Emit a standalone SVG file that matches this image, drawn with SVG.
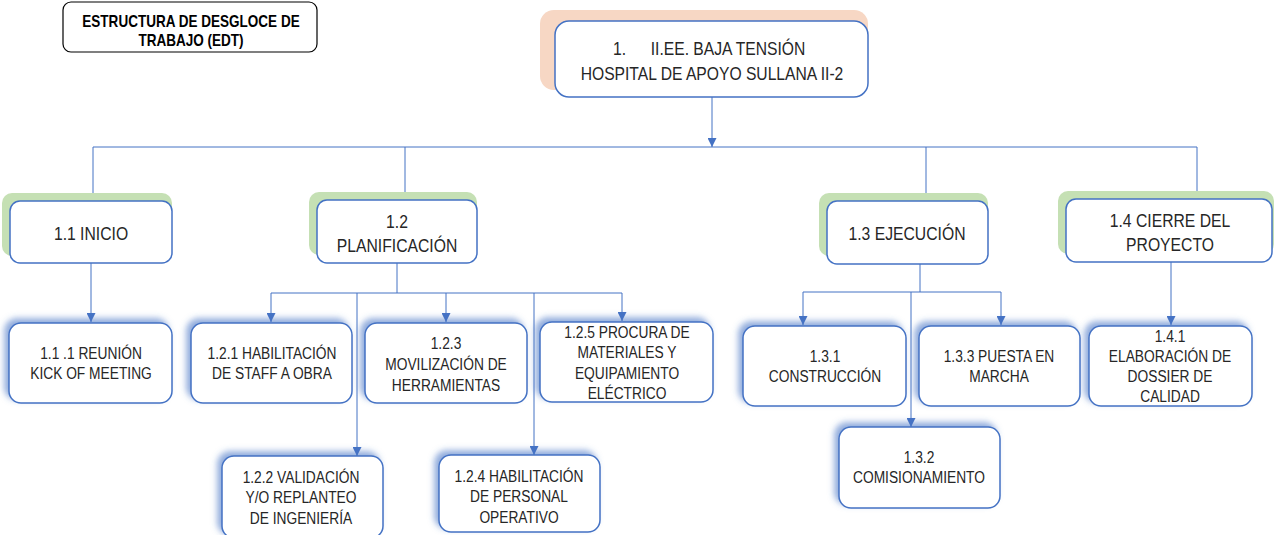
<svg xmlns="http://www.w3.org/2000/svg" width="1274" height="535" viewBox="0 0 1274 535">
<style>
text{font-family:"Liberation Sans",Arial,sans-serif;fill:#262626;text-anchor:middle}
.t0{font-size:16.5px;font-weight:bold;fill:#000}
.t1{font-size:18px}
.t2{font-size:18.5px}
.t3{font-size:17px}
.box{fill:#fff;stroke:#4472C4;stroke-width:1.5}
.green{fill:#C5E0B4}
.peach{fill:#F7D7C4}
.con{fill:none;stroke:#4472C4;stroke-width:1}
.arr{marker-end:url(#ah)}
</style>
<defs>
<marker id="ah" markerUnits="userSpaceOnUse" markerWidth="9" markerHeight="9" refX="9" refY="4.5" orient="auto" viewBox="0 0 9 9">
<path d="M0,0 L9,4.5 L0,9 z" fill="#4472C4"/>
</marker>
<filter id="glow" x="-15%" y="-20%" width="130%" height="140%">
<feOffset in="SourceAlpha" dx="-4" dy="-4" result="o"/>
<feGaussianBlur in="o" stdDeviation="3" result="b"/>
<feFlood flood-color="#4472C4" flood-opacity="0.6"/>
<feComposite in2="b" operator="in" result="s"/>
<feMerge><feMergeNode in="s"/><feMergeNode in="SourceGraphic"/></feMerge>
</filter>
</defs>

<g id="title">
<rect x="63" y="2" width="254" height="50" rx="8" fill="#fff" stroke="#000" stroke-width="1.2"/>
<g transform="translate(191 0) scale(0.82 1)">
<text class="t0" x="0" y="27">ESTRUCTURA DE DESGLOCE DE</text>
<text class="t0" x="0" y="46">TRABAJO (EDT)</text>
</g>
</g>

<g id="connectors">
<path class="con arr" d="M712,97 V147"/>
<path class="con" d="M93,147 H1197 M93,147 V193 M405,147 V192 M926,147 V193 M1197,147 V191"/>
<path class="con arr" d="M91,263 V322"/>
<path class="con" d="M397,263 V293 M271,293 H622"/>
<path class="con arr" d="M271,293 V322"/>
<path class="con arr" d="M446,293 V322"/>
<path class="con arr" d="M622,293 V321"/>
<path class="con arr" d="M357,293 V456"/>
<path class="con arr" d="M534,293 V455"/>
<path class="con" d="M920,264 V292 M803,292 H1001"/>
<path class="con arr" d="M803,292 V325"/>
<path class="con arr" d="M1001,292 V325"/>
<path class="con arr" d="M911,292 V427"/>
<path class="con arr" d="M1171,262 V325"/>
</g>

<g id="n1">
<rect class="peach" x="540" y="10" width="328" height="80" rx="14"/>
<rect class="box" x="555" y="21" width="313" height="76" rx="14"/>
<g transform="translate(712 0) scale(0.87 1)">
<text class="t1" x="-113.8" y="55" style="text-anchor:start">1.</text>
<text class="t1" x="18.4" y="55">II.EE. BAJA TENSIÓN</text>
<text class="t1" x="0" y="80">HOSPITAL DE APOYO SULLANA II-2</text>
</g>
</g>

<g id="n1_1">
<rect class="green" x="2" y="193" width="170" height="63" rx="10"/>
<rect class="box" x="10" y="201" width="162" height="62" rx="10"/>
<g transform="translate(91 0) scale(0.85 1)"><text class="t2" x="0" y="240">1.1 INICIO</text></g>
</g>

<g id="n1_2">
<rect class="green" x="309" y="192" width="168" height="63" rx="10"/>
<rect class="box" x="317" y="200" width="160" height="63" rx="10"/>
<g transform="translate(397 0) scale(0.85 1)">
<text class="t2" x="0" y="228">1.2</text>
<text class="t2" x="0" y="252">PLANIFICACIÓN</text>
</g>
</g>

<g id="n1_3">
<rect class="green" x="819" y="193" width="169" height="63" rx="10"/>
<rect class="box" x="827" y="201" width="161" height="63" rx="10"/>
<g transform="translate(907 0) scale(0.85 1)"><text class="t2" x="0" y="240">1.3 EJECUCIÓN</text></g>
</g>

<g id="n1_4">
<rect class="green" x="1058" y="191" width="216" height="63" rx="10"/>
<rect class="box" x="1066" y="199" width="206" height="63" rx="10"/>
<g transform="translate(1170 0) scale(0.85 1)">
<text class="t2" x="0" y="227">1.4 CIERRE DEL</text>
<text class="t2" x="0" y="251">PROYECTO</text>
</g>
</g>

<g id="n1_1_1">
<rect class="box" filter="url(#glow)" x="9" y="323" width="163" height="80" rx="12"/>
<g transform="translate(91 0) scale(0.81 1)">
<text class="t3" x="0" y="359">1.1 .1 REUNIÓN</text>
<text class="t3" x="0" y="379">KICK OF MEETING</text>
</g>
</g>

<g id="n1_2_1">
<rect class="box" filter="url(#glow)" x="191" y="323" width="161" height="80" rx="12"/>
<g transform="translate(272 0) scale(0.81 1)">
<text class="t3" x="0" y="359">1.2.1 HABILITACIÓN</text>
<text class="t3" x="0" y="379">DE STAFF A OBRA</text>
</g>
</g>

<g id="n1_2_3">
<rect class="box" filter="url(#glow)" x="365" y="323" width="162" height="80" rx="12"/>
<g transform="translate(446 0) scale(0.81 1)">
<text class="t3" x="0" y="349">1.2.3</text>
<text class="t3" x="0" y="370">MOVILIZACIÓN DE</text>
<text class="t3" x="0" y="391">HERRAMIENTAS</text>
</g>
</g>

<g id="n1_2_5">
<rect class="box" filter="url(#glow)" x="540" y="322" width="173" height="80" rx="12"/>
<g transform="translate(627 0) scale(0.81 1)">
<text class="t3" x="0" y="338">1.2.5 PROCURA DE</text>
<text class="t3" x="0" y="358.5">MATERIALES Y</text>
<text class="t3" x="0" y="379">EQUIPAMIENTO</text>
<text class="t3" x="0" y="399.5">ELÉCTRICO</text>
</g>
</g>

<g id="n1_2_2">
<rect class="box" filter="url(#glow)" x="222" y="456" width="161" height="82" rx="12"/>
<g transform="translate(301 0) scale(0.81 1)">
<text class="t3" x="0" y="483">1.2.2 VALIDACIÓN</text>
<text class="t3" x="0" y="503">Y/O REPLANTEO</text>
<text class="t3" x="0" y="524">DE INGENIERÍA</text>
</g>
</g>

<g id="n1_2_4">
<rect class="box" filter="url(#glow)" x="439" y="455" width="161" height="77" rx="12"/>
<g transform="translate(519 0) scale(0.81 1)">
<text class="t3" x="0" y="482">1.2.4 HABILITACIÓN</text>
<text class="t3" x="0" y="502">DE PERSONAL</text>
<text class="t3" x="0" y="523">OPERATIVO</text>
</g>
</g>

<g id="n1_3_1">
<rect class="box" filter="url(#glow)" x="743" y="326" width="163" height="80" rx="12"/>
<g transform="translate(825 0) scale(0.81 1)">
<text class="t3" x="0" y="362">1.3.1</text>
<text class="t3" x="0" y="382">CONSTRUCCIÓN</text>
</g>
</g>

<g id="n1_3_3">
<rect class="box" filter="url(#glow)" x="919" y="326" width="161" height="80" rx="12"/>
<g transform="translate(999 0) scale(0.81 1)">
<text class="t3" x="0" y="362">1.3.3 PUESTA EN</text>
<text class="t3" x="0" y="382">MARCHA</text>
</g>
</g>

<g id="n1_3_2">
<rect class="box" filter="url(#glow)" x="839" y="427" width="161" height="81" rx="12"/>
<g transform="translate(919 0) scale(0.81 1)">
<text class="t3" x="0" y="463">1.3.2</text>
<text class="t3" x="0" y="483">COMISIONAMIENTO</text>
</g>
</g>

<g id="n1_4_1">
<rect class="box" filter="url(#glow)" x="1089" y="326" width="163" height="80" rx="12"/>
<g transform="translate(1170 0) scale(0.81 1)">
<text class="t3" x="0" y="342">1.4.1</text>
<text class="t3" x="0" y="362">ELABORACIÓN DE</text>
<text class="t3" x="0" y="382.5">DOSSIER DE</text>
<text class="t3" x="0" y="402">CALIDAD</text>
</g>
</g>
</svg>
